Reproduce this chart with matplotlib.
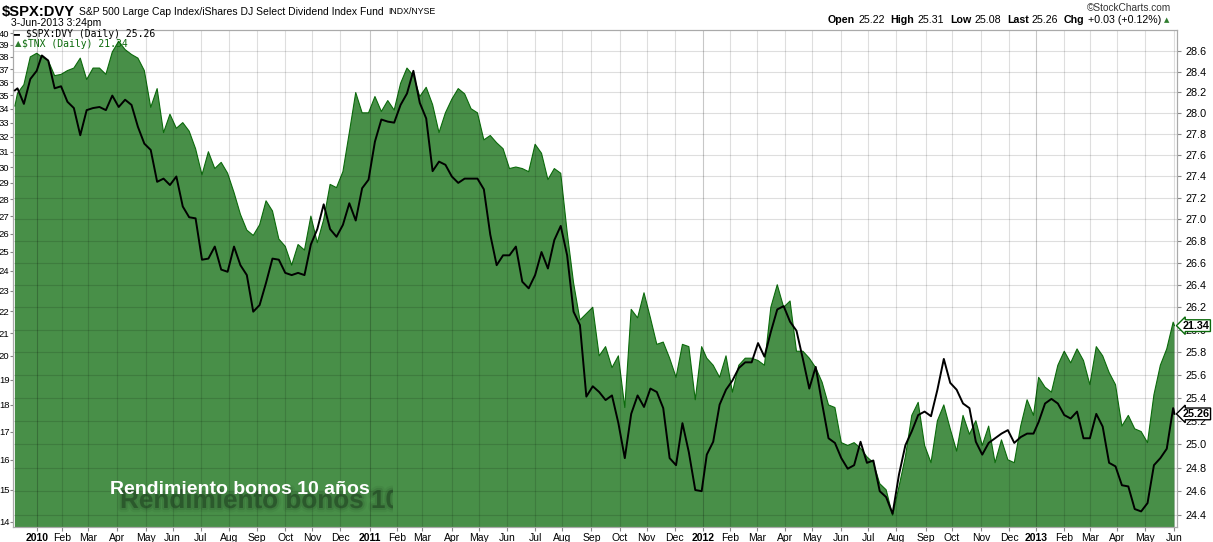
import matplotlib
matplotlib.use("Agg")
import matplotlib.pyplot as plt
import matplotlib.ticker as mticker
import matplotlib.patheffects as pe
from matplotlib.transforms import Bbox, TransformedBbox
import pandas as pd

plt.rcParams['font.family'] = ['Liberation Sans', 'DejaVu Sans']
plt.rcParams['text.parse_math'] = False

# weekly readings (Fridays) plus first and last day
dates = ([pd.Timestamp('2009-12-09')]
         + list(pd.date_range('2009-12-11', '2013-05-31', freq='W-FRI'))
         + [pd.Timestamp('2013-06-03')])

# $TNX (10y yield x10), left axis
tnx = [34.2,
       35.15, 35.8, 38.0, 38.3, 38.0, 37.7, 36.5, 36.6, 36.9, 37.1,
       37.9, 36.2, 37.1, 37.1, 36.6, 38.4, 39.3, 38.6, 38.2, 37.9,
       36.9, 34.1, 35.5, 32.3, 33.6, 32.6, 33.0, 32.4, 31.2, 29.5,
       31.0, 29.9, 30.3, 29.6, 28.4, 27.1, 26.2, 25.9, 26.5, 27.9,
       27.3, 25.7, 25.3, 24.3, 25.4, 25.1, 27.0, 25.5, 26.8, 28.9,
       28.7, 29.7, 32.3, 35.2, 33.7, 33.7, 34.9, 33.8, 34.6, 33.9,
       35.9, 37.1, 36.5, 34.9, 35.6, 34.3, 32.3, 33.7, 34.7, 35.5,
       35.1, 34.0, 33.7, 31.8, 32.1, 31.6, 31.2, 29.9, 30.0, 29.9,
       29.7, 31.5, 30.9, 29.2, 29.9, 29.6, 26.1, 23.4, 21.6, 21.9,
       22.2, 20.0, 20.4, 19.5, 20.0, 17.9, 22.1, 21.7, 22.9, 21.7,
       20.5, 20.6, 19.9, 19.1, 20.5, 20.4, 18.2, 20.4, 19.9, 19.6,
       19.1, 20.0, 18.5, 19.6, 19.9, 19.9, 19.8, 19.6, 22.2, 23.3,
       22.2, 22.5, 20.2, 20.2, 19.9, 19.5, 18.9, 18.0, 17.9, 16.6,
       16.5, 16.6, 16.4, 16.1, 15.9, 15.2, 15.0, 14.2, 15.1, 16.1,
       17.6, 18.1, 16.5, 15.9, 17.4, 18.0, 17.1, 16.3, 17.6, 16.9,
       17.4, 16.5, 17.2, 15.9, 16.7, 16.0, 15.9, 17.2, 18.2, 17.6,
       19.1, 18.7, 18.5, 19.6, 20.2, 19.7, 20.3, 19.8, 18.8, 20.4,
       20.0, 19.3, 18.8, 17.2, 17.6, 17.1, 17.0, 16.6, 18.4, 19.6,
       20.3, 21.5,
       21.34]

# $SPX:DVY ratio, right axis
spx_dvy = [28.22,
           28.24, 28.09, 28.33, 28.41, 28.56, 28.51, 28.24, 28.26, 28.11, 28.05,
           27.79, 28.03, 28.05, 28.06, 28.03, 28.17, 28.06, 28.13, 28.08, 27.87,
           27.71, 27.65, 27.35, 27.38, 27.32, 27.40, 27.12, 27.02, 27.01, 26.63,
           26.64, 26.75, 26.54, 26.52, 26.75, 26.58, 26.49, 26.16, 26.22, 26.42,
           26.64, 26.63, 26.51, 26.49, 26.51, 26.49, 26.77, 26.91, 27.14, 26.91,
           26.84, 26.95, 27.15, 26.99, 27.29, 27.37, 27.73, 27.94, 27.92, 27.91,
           28.08, 28.19, 28.41, 28.10, 27.95, 27.45, 27.54, 27.51, 27.40, 27.34,
           27.38, 27.38, 27.38, 27.28, 26.86, 26.58, 26.67, 26.67, 26.75, 26.43,
           26.37, 26.49, 26.70, 26.55, 26.81, 26.94, 26.67, 26.16, 26.04, 25.41,
           25.50, 25.45, 25.38, 25.42, 25.18, 24.88, 25.26, 25.42, 25.32, 25.48,
           25.45, 25.31, 24.88, 24.82, 25.18, 24.93, 24.61, 24.60, 24.91, 25.02,
           25.34, 25.47, 25.55, 25.66, 25.71, 25.71, 25.88, 25.76, 25.98, 26.18,
           26.21, 26.07, 25.99, 25.74, 25.48, 25.67, 25.35, 25.05, 25.01, 24.88,
           24.79, 24.82, 25.02, 24.84, 24.86, 24.60, 24.55, 24.41, 24.74, 24.99,
           25.11, 25.25, 25.28, 25.24, 25.47, 25.74, 25.53, 25.47, 25.35, 25.31,
           25.02, 24.91, 25.01, 25.05, 25.09, 25.12, 25.01, 25.06, 25.09, 25.09,
           25.19, 25.35, 25.39, 25.35, 25.25, 25.22, 25.28, 25.05, 25.05, 25.26,
           25.15, 24.84, 24.81, 24.65, 24.64, 24.45, 24.43, 24.50, 24.82, 24.88,
           24.96, 25.31,
           25.26]

left_ticks = list(range(14, 41))
right_ticks = [24.4, 24.6, 24.8, 25.0, 25.2, 25.4, 25.6, 25.8, 26.0, 26.2, 26.4,
               26.6, 26.8, 27.0, 27.2, 27.4, 27.6, 27.8, 28.0, 28.2, 28.4, 28.6]

# trading-day axis (no gaps for weekends)
new_year = ['2010-01-01', '2012-01-02', '2013-01-01']
tdays = pd.bdate_range('2009-11-01', '2013-07-31', freq='C', holidays=new_year)
x = tdays.searchsorted(dates)
months = pd.date_range('2010-01-01', '2013-06-30',
                       freq=pd.offsets.CustomBusinessMonthBegin(holidays=new_year))
mx = tdays.searchsorted(months)
mlabels = [str(d.year) if d.month == 1 else d.strftime('%b') for d in months]

W, H = 1213, 542
fig = plt.figure(figsize=(W / 100, H / 100), dpi=100)
renderer = fig.canvas.get_renderer()


def fx(px):
    return px / W


def fy(py):
    return 1 - py / H


def chain(x0, y, pieces):
    # pieces: (text, gap after, kwargs)
    xp = x0
    for s, gap, kw in pieces:
        t = fig.text(fx(xp), fy(y), s, va='center', **kw)
        xp += t.get_window_extent(renderer).width + gap
    return xp


ax = fig.add_axes([fx(13), fy(527), 1164 / W, 497 / H])
ax2 = ax.twinx()

green = '#488f48'
ax.fill_between(x, tnx, 10, color=green, lw=0, zorder=1)
ax.plot(x, tnx, color='#0b6a0b', lw=0.8, zorder=1.5)
ax.set_yscale('log')
ax.set_ylim(13.85, 40.26)
ax.yaxis.set_major_locator(mticker.FixedLocator(left_ticks))
ax.yaxis.set_major_formatter(mticker.FormatStrFormatter('%d'))
ax.yaxis.set_minor_locator(mticker.NullLocator())
ax.set_xlim(tdays.searchsorted(pd.Timestamp('2010-01-04')) - 18.5,
            tdays.searchsorted(pd.Timestamp('2013-06-03')) + 2)
ax.set_xticks(mx)
ax.set_xticklabels(mlabels)
for lab, m in zip(ax.get_xticklabels(), months):
    if m.month == 1:
        lab.set_fontweight('bold')
ax.tick_params(axis='x', length=3, pad=1.5, labelsize=7.5, colors='#888888',
               labelcolor='black')
ax.tick_params(axis='y', length=2, pad=0.5, labelsize=6.8, colors='#888888',
               labelcolor='black')

for pos, m in zip(mx, months):
    ax.axvline(pos, color='black', alpha=0.22 if m.month == 1 else 0.13,
               lw=0.8, zorder=3)

ax2.plot(x, spx_dvy, color='black', lw=1.4, zorder=4)
ax2.set_yscale('log')
ax2.set_ylim(24.30, 28.81)
ax2.yaxis.set_major_locator(mticker.FixedLocator(right_ticks))
ax2.yaxis.set_major_formatter(mticker.FormatStrFormatter('%.1f'))
ax2.yaxis.set_minor_locator(mticker.NullLocator())
ax2.tick_params(axis='y', length=3, pad=3, labelsize=7.8, colors='#888888',
                labelcolor='black')
ax2.grid(axis='y', color='black', alpha=0.13, lw=0.8)

for a in (ax, ax2):
    for s in a.spines.values():
        s.set_color('#aaaaaa')
        s.set_linewidth(0.8)

# right-side value callouts, drawn over the tick labels
for val, ytr, ec in [(tnx[-1], ax.transData, '#0b6a0b'),
                     (spx_dvy[-1], ax2.transData, 'black')]:
    ax2.annotate(f'{val:.2f}', xy=(1, val), xycoords=(ax2.transAxes, ytr),
                 xytext=(4, 0), textcoords='offset points', va='center', ha='left',
                 fontsize=7.8, fontweight='bold', annotation_clip=False, zorder=20,
                 bbox=dict(boxstyle='larrow,pad=0.08', fc='white', ec=ec, lw=1))

# header
chain(2, 12, [('$SPX:DVY', 4, dict(fontsize=10.6, fontweight='bold')),
              ('S&P 500 Large Cap Index/iShares DJ Select Dividend Index Fund', 5,
               dict(fontsize=7.5)),
              ('INDX/NYSE', 0, dict(fontsize=6.3))])
fig.text(fx(11), fy(23), '3-Jun-2013 3:24pm', fontsize=7.5, va='center')
fig.text(fx(1171), fy(8), '©StockCharts.com', fontsize=7.3, va='center', ha='right',
         color='#333333')
b = dict(fontsize=7.7, fontweight='bold')
n = dict(fontsize=7.7)
chain(828, 20, [('Open', 3, b), ('25.22', 6, n), ('High', 3, b), ('25.31', 6, n),
                ('Low', 3, b), ('25.08', 6, n), ('Last', 3, b), ('25.26', 6, n),
                ('Chg', 3, b), ('+0.03 (+0.12%)', 3, n),
                ('▲', 0, dict(fontsize=5, color='#2e7d2e', family=['DejaVu Sans']))])

# legend
fig.text(fx(13), fy(34), '━', fontsize=7, va='center', family=['DejaVu Sans'])
fig.text(fx(26), fy(34), f'$SPX:DVY (Daily) {spx_dvy[-1]:.2f}', fontsize=7,
         va='center', family=['DejaVu Sans Mono'])
fig.text(fx(15), fy(44), '▲', fontsize=6, va='center', color='#2e7d2e',
         family=['DejaVu Sans'])
fig.text(fx(22), fy(44), f'$TNX (Daily) {tnx[-1]:.2f}', fontsize=7,
         va='center', color='#0b6a0b', family=['DejaVu Sans Mono'])

# annotation with a large blurred shadow, cut off on the right
shadow_c = '#1a361c'
clip = TransformedBbox(Bbox.from_extents(0, 0, fx(393), 1), fig.transFigure)
shadow = fig.text(fx(120), fy(501), 'Rendimiento bonos 10 años', fontsize=18.8,
                  fontweight='bold', va='center', color=shadow_c, alpha=0.35,
                  path_effects=[pe.Stroke(linewidth=6, foreground=shadow_c, alpha=0.08),
                                pe.Stroke(linewidth=3, foreground=shadow_c, alpha=0.14),
                                pe.Normal()])
shadow.set_clip_box(clip)
shadow.set_clip_on(True)
fig.text(fx(110), fy(490), 'Rendimiento bonos 10 años', fontsize=14,
         fontweight='bold', va='center', color='white')

fig.savefig('out.png', dpi=100)
